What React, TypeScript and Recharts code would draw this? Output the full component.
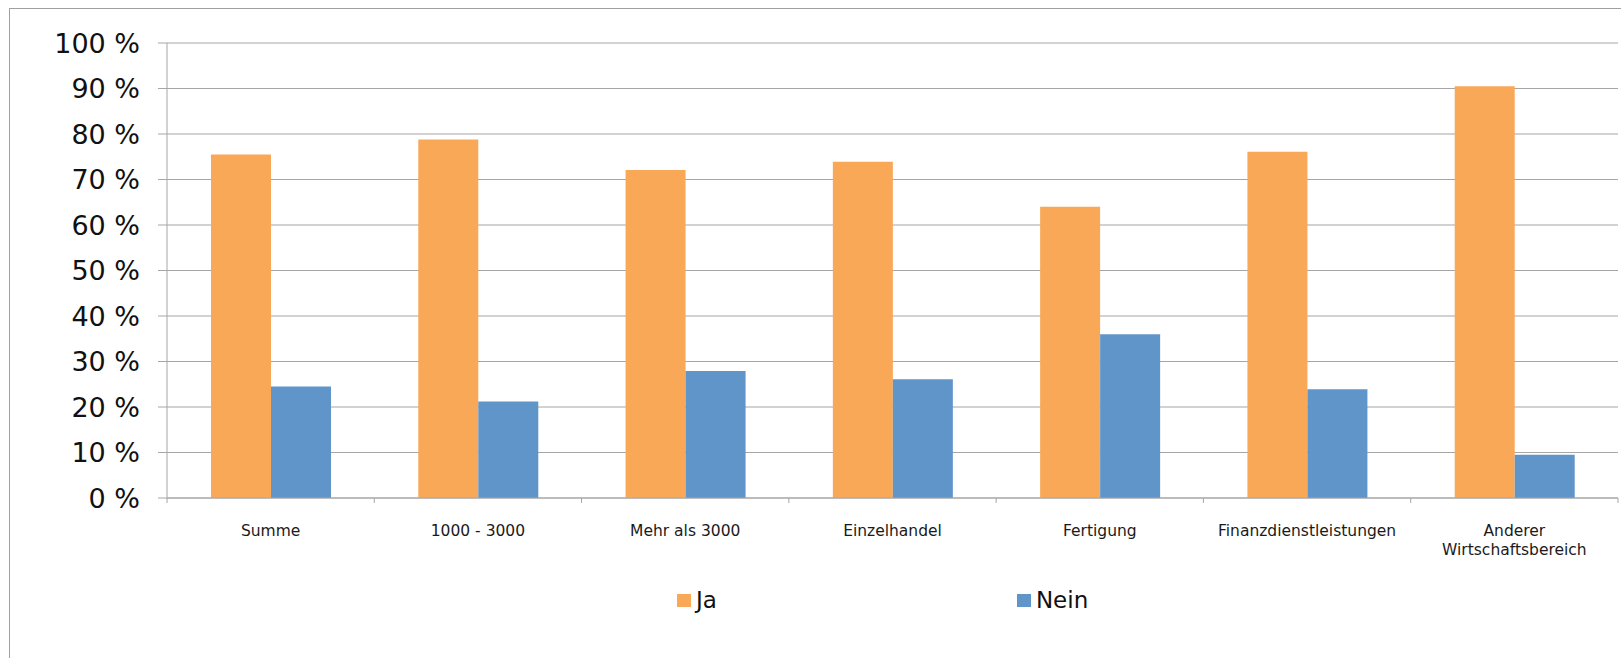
import React from 'react';
import { BarChart, Bar, XAxis, YAxis, CartesianGrid, Legend } from 'recharts';

const categories = [
  'Summe',
  '1000 - 3000',
  'Mehr als 3000',
  'Einzelhandel',
  'Fertigung',
  'Finanzdienstleistungen',
  'Anderer Wirtschaftsbereich',
];
const jaValues = [75.5, 78.8, 72.1, 73.9, 64.0, 76.1, 90.5];
const neinValues = [24.5, 21.2, 27.9, 26.1, 36.0, 23.9, 9.5];
const yTicks = [0, 10, 20, 30, 40, 50, 60, 70, 80, 90, 100];

const seriesNames = { ja: 'Ja', nein: 'Nein' };

const W = 1621;
const H = 658;
const Y_AXIS_W = 167;
const RIGHT = 3;
const FONT = '"DejaVu Sans", Verdana, sans-serif';
const GRID = '#a6a6a6';

const data = categories.map((name, i) => ({
  name,
  ja: jaValues[i],
  nein: neinValues[i],
}));

const band = (W - Y_AXIS_W - RIGHT) / categories.length;

// category tick: label (wrapped if long) plus boundary tick marks like Excel
function CategoryTick(props: any) {
  const { x, y, payload, index } = props;
  const text: string = payload.value;
  const lines = text.length > 22 ? text.split(' ') : [text];
  const left = x - band / 2;
  return (
    <g>
      <line x1={left} y1={y - 5} x2={left} y2={y} stroke={GRID} />
      {index === categories.length - 1 && (
        <line x1={left + band} y1={y - 5} x2={left + band} y2={y} stroke={GRID} />
      )}
      <text x={x} y={y} textAnchor="middle" fontFamily={FONT} fontSize={15.5} fill="#1a1a1a">
        {lines.map((l, i) => (
          <tspan key={i} x={x} dy={i === 0 ? 33 : 18.5}>
            {l}
          </tspan>
        ))}
      </text>
    </g>
  );
}

function LegendContent(props: any) {
  const items = props.payload || [];
  return (
    <div style={{ display: 'flex', marginLeft: 677, gap: 300, fontFamily: FONT, fontSize: 23 }}>
      {items.map((it: any) => (
        <div key={it.value} style={{ display: 'flex', alignItems: 'center' }}>
          <span style={{ width: 14, height: 13, background: it.color, display: 'inline-block', marginRight: 5 }} />
          <span style={{ color: '#111', lineHeight: '28px' }}>{it.value}</span>
        </div>
      ))}
    </div>
  );
}

export default function App() {
  return (
    <div
      style={{
        position: 'absolute',
        left: 0,
        top: 0,
        width: W,
        height: H,
        overflow: 'hidden',
        background: '#fff',
      }}
    >
      <div
        style={{
          position: 'absolute',
          left: 9,
          top: 8,
          width: W + 20,
          height: H + 20,
          borderLeft: '1px solid #a0a0a0',
          borderTop: '1px solid #a0a0a0',
        }}
      />
      <BarChart
        width={W}
        height={H}
        data={data}
        margin={{ top: 43, right: RIGHT, left: 0, bottom: 130 }}
        barCategoryGap={44}
        barGap={0}
      >
        <CartesianGrid vertical={false} stroke={GRID} strokeWidth={1.2} />
        <XAxis
          dataKey="name"
          axisLine={{ stroke: GRID }}
          tickLine={false}
          tickSize={5}
          tickMargin={0}
          interval={0}
          tick={<CategoryTick />}
        />
        <YAxis
          width={Y_AXIS_W}
          domain={[0, 100]}
          ticks={yTicks}
          interval={0}
          tickFormatter={(v: number) => `${v} %`}
          axisLine={{ stroke: GRID }}
          tickLine={{ stroke: GRID }}
          tickSize={9}
          tickMargin={18}
          tick={{ fontFamily: FONT, fontSize: 27, fill: '#111' }}
        />
        <Legend
          layout="horizontal"
          verticalAlign="middle"
          align="center"
          content={<LegendContent />}
          wrapperStyle={{ top: 586, left: 0, width: W }}
        />
        <Bar dataKey="ja" name={seriesNames.ja} fill="#f9a857" isAnimationActive={false} />
        <Bar dataKey="nein" name={seriesNames.nein} fill="#6095c9" isAnimationActive={false} />
      </BarChart>
    </div>
  );
}
